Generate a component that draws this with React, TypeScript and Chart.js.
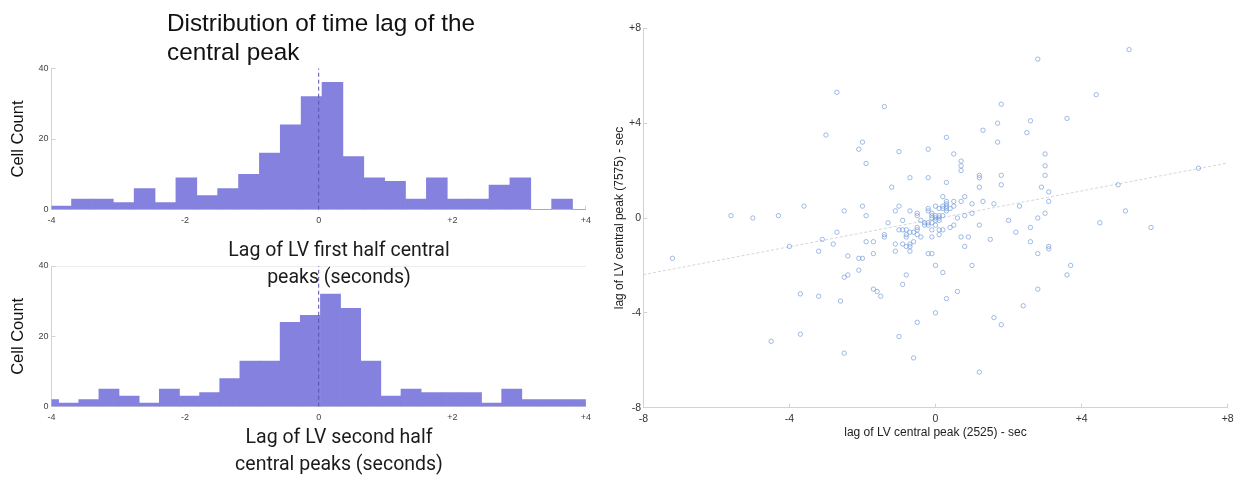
import React, { useEffect, useRef } from 'react';
import { Chart, registerables } from 'chart.js';

Chart.register(...registerables);

// ---------- data ----------
const histTickLabels = ['-4', '-2', '0', '+2', '+4'];
const countTickLabels = ['0', '20', '40'];
const scatterTickLabels = ['-8', '-4', '0', '+4', '+8'];

const topBinStart = -4.0125;
const topBinWidth = 0.3125;
const topCounts = [1, 3, 3, 2, 6, 2, 9, 4, 6, 10, 16, 24, 32, 36, 15, 9, 8, 3, 9, 3, 3, 7, 9, 0, 3, 0];

const bottomBinStart = -4.195;
const bottomBinWidth = 0.3015;
const bottomCounts = [2, 1, 2, 5, 3, 1, 5, 3, 4, 8, 13, 13, 24, 26, 32, 28, 13, 3, 5, 4, 4, 4, 1, 5, 2, 2, 2, 2];

const zeroLineX = [0, 0];
const zeroLineY = [0, 40];

const mainTitleLines = ['Distribution of time lag of the', 'central peak'];
const topAxisTitleLines = ['Lag of LV first half central', 'peaks (seconds)'];
const bottomAxisTitleLines = ['Lag of LV second half', 'central peaks (seconds)'];
const countAxisTitle = 'Cell Count';
const scatterXTitle = 'lag of LV central peak (2525) - sec';
const scatterYTitle = 'lag of LV central peak (7575) - sec';

const scatterX = [
  5.3, 2.8, -2.7, 4.4, -1.4, 1.8, 3.6, 2.6, 1.7, 1.3, 2.5, -3.0, 0.3, 1.7, -2.0, -2.1, -1.0, -0.2, 3.0, 0.5,
  -1.9, 0.7, 0.7, 0.7, 3.0, 7.2, 1.2, 1.2, 1.8, 3.0, -0.7, -0.2, 0.3, 1.8, 5.0, -1.2, 1.2, 2.9, 3.1, 0.2,
  0.8, -3.6, -2.0, -1.0, 1.6, 2.3, 1.3, 1.0, 0.7, 3.1, 5.2, -2.5, -1.1, -0.7, -0.2, -0.2, 0.3, 0.3, 0.3, 0.3,
  0.3, 0.5, 0.5, 0.4, 0.0, 0.1, 3.0, -5.6, -5.0, -4.3, -1.9, -0.5, -0.5, -0.1, -0.1, -0.1, 0.0, 0.0, 0.1, 0.2,
  0.8, 1.0, 0.6, 2.8, 2.0, -1.3, -0.9, -0.4, -0.3, -0.3, -0.2, -0.2, 0.0, 0.0, 0.5, 1.2, 4.5, -1.0, -0.9, -0.8,
  -0.7, -0.5, -0.5, -0.6, -0.1, 0.1, 0.2, 0.4, 2.6, 5.9, -2.7, 2.2, -1.4, -1.4, -0.8, -0.8, -0.5, 0.1, -3.1, 0.7,
  0.9, -0.4, -0.1, -1.9, -1.7, -0.6, 1.5, 2.6, -2.8, -1.1, -0.9, -0.7, -0.7, -0.8, 0.8, 3.1, 3.1, -4.0, -3.2, -1.1,
  -0.7, -1.7, -0.2, -0.1, 2.8, -2.4, -2.1, -2.0, -7.2, 0.0, 1.0, 3.7, -2.1, 0.2, -2.4, -0.8, -2.5, 3.6, -0.9, -1.7,
  -1.6, 2.8, -1.5, 0.6, -3.7, -3.2, 0.3, -2.6, 2.4, 0.0, 1.6, -0.5, 1.8, -3.7, -1.0, -4.5, -2.5, -0.6, 1.2, 0.1,
  0.2, 0.2, 0.1, -0.1,
];
const scatterY = [
  7.1, 6.7, 5.3, 5.2, 4.7, 4.8, 4.2, 4.1, 4.0, 3.7, 3.6, 3.5, 3.4, 3.2, 3.2, 2.9, 2.8, 2.9, 2.7, 2.7,
  2.3, 2.4, 2.2, 2.0, 2.2, 2.1, 1.8, 1.7, 1.8, 1.8, 1.7, 1.7, 1.5, 1.4, 1.4, 1.3, 1.3, 1.3, 1.1, 0.9,
  0.9, 0.5, 0.5, 0.5, 0.6, 0.5, 0.7, 0.6, 0.7, 0.7, 0.3, 0.3, 0.3, 0.3, 0.4, 0.3, 0.7, 0.6, 0.5, 0.4,
  0.3, 0.7, 0.5, 0.4, 0.5, 0.4, 0.2, 0.1, 0.0, 0.1, 0.1, 0.2, 0.1, 0.2, 0.1, 0.0, 0.1, 0.0, 0.1, 0.1,
  0.1, 0.2, 0.0, 0.0, -0.1, -0.2, -0.1, -0.1, -0.2, -0.3, -0.2, -0.3, -0.1, -0.3, -0.3, -0.3, -0.2, -0.5, -0.5, -0.5,
  -0.6, -0.4, -0.5, -0.6, -0.5, -0.5, -0.5, -0.4, -0.4, -0.4, -0.6, -0.6, -0.7, -0.8, -0.7, -0.8, -0.7, -0.7, -0.9, -0.8,
  -0.8, -0.8, -0.8, -1.0, -1.0, -1.0, -0.9, -1.0, -1.1, -1.1, -1.1, -1.1, -1.2, -1.2, -1.2, -1.2, -1.3, -1.2, -1.4, -1.4,
  -1.4, -1.5, -1.5, -1.5, -1.5, -1.6, -1.7, -1.7, -1.7, -2.0, -2.0, -2.0, -2.2, -2.3, -2.4, -2.4, -2.5, -2.4, -2.8, -3.0,
  -3.1, -3.0, -3.3, -3.1, -3.2, -3.3, -3.4, -3.5, -3.7, -4.0, -4.2, -4.4, -4.5, -4.9, -5.0, -5.2, -5.7, -5.9, -6.5, 0.0,
  0.4, 0.5, -0.1, -0.2,
];

const fitLineX = [-8, 8];
const fitLineY = [-2.39, 2.32];

// ---------- styles ----------
const BAR_COLOR = 'rgb(132,130,222)';
const ZERO_LINE_COLOR = '#5753b3';
const AXIS_COLOR = '#d2d2d2';
const SANS = "'Liberation Sans', Arial, sans-serif";

function histConfig(
  counts: number[],
  binStart: number,
  binWidth: number,
  padTop: number,
  xHeight: number,
  topGrid: boolean
): any {
  return {
    type: 'bar',
    data: {
      datasets: [
        {
          type: 'line',
          data: zeroLineX.map((x, i) => ({ x, y: zeroLineY[i] })),
          borderColor: ZERO_LINE_COLOR,
          borderWidth: 1,
          borderDash: [4, 3],
          pointRadius: 0,
          fill: false,
          clip: 0,
          order: 0,
        },
        {
          type: 'bar',
          data: counts.map((c, i) => ({ x: binStart + (i + 0.5) * binWidth, y: c })),
          backgroundColor: BAR_COLOR,
          borderWidth: 0,
          barPercentage: 1,
          categoryPercentage: 1,
          clip: 0,
          order: 1,
        },
      ],
    },
    options: {
      responsive: false,
      animation: false,
      devicePixelRatio: 1,
      layout: { padding: { top: padTop, right: 12.7, left: 0, bottom: 0 } },
      plugins: { legend: { display: false }, tooltip: { enabled: false }, title: { display: false } },
      scales: {
        x: {
          type: 'linear',
          min: -4,
          max: 4,
          offset: false,
          ticks: {
            stepSize: 2,
            autoSkip: false,
            maxRotation: 0,
            callback: (_v: any, i: number) => histTickLabels[i],
            font: { family: SANS, size: 9 },
            color: '#444',
            padding: 9,
          },
          grid: { offset: false, drawOnChartArea: false, tickLength: -4, color: AXIS_COLOR },
          border: { color: AXIS_COLOR, width: 1 },
          afterFit: (s: any) => {
            s.height = xHeight;
          },
        },
        y: {
          type: 'linear',
          min: 0,
          max: 40,
          ticks: {
            stepSize: 20,
            callback: (_v: any, i: number) => countTickLabels[i],
            font: { family: SANS, size: 9 },
            color: '#444',
            padding: 7,
          },
          grid: {
            drawOnChartArea: topGrid,
            tickLength: -4,
            tickColor: AXIS_COLOR,
            color: (ctx: any) => (ctx.tick && ctx.tick.value === 40 ? '#ededed' : 'rgba(0,0,0,0)'),
          },
          border: { color: AXIS_COLOR, width: 1 },
          title: {
            display: true,
            text: countAxisTitle,
            font: { family: SANS, size: 16.5 },
            color: '#111',
            padding: { top: 8.2, bottom: 0 },
          },
          afterFit: (s: any) => {
            s.width = 51.5;
          },
        },
      },
    },
  };
}

function scatterConfig(): any {
  return {
    type: 'scatter',
    data: {
      datasets: [
        {
          type: 'line',
          data: fitLineX.map((x, i) => ({ x, y: fitLineY[i] })),
          borderColor: '#d6d6d6',
          borderWidth: 1,
          borderDash: [3, 2],
          pointRadius: 0,
          fill: false,
          clip: 0,
          order: 1,
        },
        {
          type: 'scatter',
          data: scatterX.map((x, i) => ({ x, y: scatterY[i] })),
          pointStyle: 'circle',
          pointRadius: 2.2,
          borderWidth: 0.8,
          borderColor: 'rgba(105,150,215,0.8)',
          backgroundColor: 'rgba(0,0,0,0)',
          order: 0,
        },
      ],
    },
    options: {
      responsive: false,
      animation: false,
      devicePixelRatio: 1,
      layout: { padding: { top: 28.3, right: 11, left: 0, bottom: 0 } },
      plugins: { legend: { display: false }, tooltip: { enabled: false }, title: { display: false } },
      scales: {
        x: {
          type: 'linear',
          min: -8,
          max: 8,
          ticks: {
            stepSize: 4,
            autoSkip: false,
            maxRotation: 0,
            callback: (_v: any, i: number) => scatterTickLabels[i],
            font: { family: SANS, size: 10.5 },
            color: '#333',
            padding: 9.3,
          },
          grid: { drawOnChartArea: false, tickLength: -4, color: AXIS_COLOR },
          border: { color: AXIS_COLOR, width: 1 },
          title: {
            display: true,
            text: scatterXTitle,
            font: { family: SANS, size: 12 },
            color: '#222',
            padding: { top: 0, bottom: 36.8 },
          },
          afterFit: (s: any) => {
            s.height = 69.3;
          },
        },
        y: {
          type: 'linear',
          min: -8,
          max: 8,
          ticks: {
            stepSize: 4,
            callback: (_v: any, i: number) => scatterTickLabels[i],
            font: { family: SANS, size: 10.5 },
            color: '#333',
            padding: 6.3,
          },
          grid: { drawOnChartArea: false, tickLength: -4, color: AXIS_COLOR },
          border: { color: AXIS_COLOR, width: 1 },
          title: {
            display: true,
            text: scatterYTitle,
            font: { family: SANS, size: 12 },
            color: '#222',
            padding: { top: 12.8, bottom: 0 },
          },
          afterFit: (s: any) => {
            s.width = 43.3;
          },
        },
      },
    },
  };
}

function useChart(ref: React.RefObject<HTMLCanvasElement | null>, makeConfig: () => any) {
  useEffect(() => {
    if (!ref.current) return;
    const chart = new Chart(ref.current, makeConfig());
    return () => chart.destroy();
  }, []);
}

export default function App() {
  const topRef = useRef<HTMLCanvasElement>(null);
  const bottomRef = useRef<HTMLCanvasElement>(null);
  const scatterRef = useRef<HTMLCanvasElement>(null);

  useChart(topRef, () => histConfig(topCounts, topBinStart, topBinWidth, 68.3, 30.3, false));
  useChart(bottomRef, () => histConfig(bottomCounts, bottomBinStart, bottomBinWidth, 26, 70.3, true));
  useChart(scatterRef, () => scatterConfig());

  const robotoText: React.CSSProperties = {
    position: 'absolute',
    left: 139,
    width: 400,
    textAlign: 'center',
    fontFamily: 'Roboto, sans-serif',
    fontSize: 19.5,
    lineHeight: '27px',
    color: '#1b1b1b',
    whiteSpace: 'nowrap',
  };

  return (
    <div
      style={{
        position: 'fixed',
        left: 0,
        top: 0,
        width: 1243,
        height: 477,
        background: '#ffffff',
        overflow: 'hidden',
      }}
    >
      <canvas ref={topRef} width={600} height={240} style={{ position: 'absolute', left: 0, top: 0 }} />
      <canvas ref={bottomRef} width={600} height={237} style={{ position: 'absolute', left: 0, top: 240 }} />
      <canvas ref={scatterRef} width={643} height={477} style={{ position: 'absolute', left: 600, top: 0 }} />
      <div
        style={{
          position: 'absolute',
          left: 167,
          top: 8,
          fontFamily: SANS,
          fontSize: 24.3,
          lineHeight: '29px',
          color: '#111',
          whiteSpace: 'nowrap',
        }}
      >
        {mainTitleLines.map((l) => (
          <div key={l}>{l}</div>
        ))}
      </div>
      <div style={{ ...robotoText, top: 236.3 }}>
        {topAxisTitleLines.map((l) => (
          <div key={l}>{l}</div>
        ))}
      </div>
      <div style={{ ...robotoText, top: 423.3 }}>
        {bottomAxisTitleLines.map((l) => (
          <div key={l}>{l}</div>
        ))}
      </div>
    </div>
  );
}
